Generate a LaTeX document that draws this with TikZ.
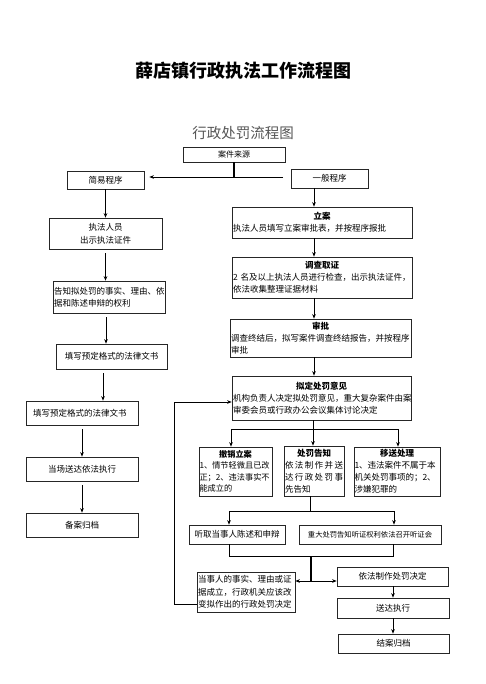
\documentclass[tikz,border=0pt]{standalone}
\usepackage{fontspec}
\setmainfont{Noto Sans CJK SC}
\usetikzlibrary{arrows.meta}
\definecolor{subgray}{RGB}{85,85,85}
\tikzset{
  box/.style={draw=black!85, line width=0.7pt, inner xsep=1pt, inner ysep=1pt,
    font=\fontsize{8.5}{12}\selectfont, align=center},
  tbox/.style={box, align=left},
  arr/.style={-{Stealth[length=4.5pt,width=3.6pt]}, line width=0.7pt},
  ln/.style={line width=0.7pt},
  thk/.style={line width=1.8pt},
}
\begin{document}
\begin{tikzpicture}[x=1pt,y=-1pt]
\useasboundingbox (0,0) rectangle (486,684);
% titles
\node[font=\fontsize{18}{20}\selectfont\bfseries] (title) at (243,71) {薛店镇行政执法工作流程图};
\node[font=\fontsize{14.5}{16}\selectfont, text=subgray] (sub) at (243,133) {行政处罚流程图};
% top
\node[box, minimum width=102pt, minimum height=15pt, font=\fontsize{8}{10}\selectfont] (src) at (234,154.5) {案件来源};
\node[box, minimum width=77pt, minimum height=18pt] (jy) at (105.5,180) {简易程序};
\node[box, minimum width=77pt, minimum height=19pt] (yb) at (329.5,178.5) {一般程序};
\coordinate (hs) at (283,177);
\draw[thk] (src.south) -- (src.south |- hs);
\draw[arr, shorten >=5pt] (hs) -- (hs -| jy.east);
% left column
\node[box, minimum width=113pt, minimum height=31pt, font=\fontsize{8.5}{13}\selectfont] (zf) at (105.5,233.5) {执法人员\\出示执法证件};
\node[tbox, minimum width=112pt, minimum height=32pt, text width=110pt] (gz) at (109,297) {告知拟处罚的事实、理由、依\\据和陈述申辩的权利};
\node[box, minimum width=111pt, minimum height=25pt] (tx1) at (111.5,356.5) {填写预定格式的法律文书};
\node[tbox, minimum width=112pt, minimum height=24pt, inner xsep=7pt, text width=98pt] (tx2) at (82,413) {填写预定格式的法律文书};
\node[box, minimum width=112pt, minimum height=24pt] (dc) at (82,469) {当场送达依法执行};
\node[box, minimum width=112pt, minimum height=24pt] (ba) at (82,525) {备案归档};
\coordinate (c1) at (106,0);
\coordinate (c2) at (103,0);
\draw[arr] (jy.south) -- (zf.north);
\draw[arr, shorten <=4pt] (zf.south) -- (zf.south |- gz.north);
\draw[arr, shorten <=4pt] (gz.south -| c1) -- (tx1.north -| c1);
\draw[arr, shorten <=4pt] (tx1.south -| c2) -- (tx2.north -| c2);
\draw[arr, shorten <=4pt] (tx2.south) -- (dc.north);
\draw[arr, shorten <=4pt] (dc.south) -- (ba.north);
% right column
\node[tbox, minimum width=180pt, minimum height=31pt, text width=178pt] (la) at (322,222.5)
  {{\centering\bfseries 立案\par}执法人员填写立案审批表，并按程序报批};
\node[tbox, minimum width=180pt, minimum height=41pt, text width=178pt] (dq) at (322,277.5)
  {{\centering\bfseries 调查取证\par}2 名及以上执法人员进行检查，出示执法证件，\\依法收集整理证据材料};
\node[tbox, minimum width=181pt, minimum height=38pt, text width=179pt] (sp) at (320.5,338)
  {{\centering\bfseries 审批\par}调查终结后，拟写案件调查终结报告，并按程序\\审批};
\node[tbox, minimum width=179pt, minimum height=44pt, text width=177pt] (nd) at (321.5,398)
  {{\centering\bfseries 拟定处罚意见\par}机构负责人决定拟处罚意见，重大复杂案件由案\\审委会员或行政办公会议集体讨论决定};
\coordinate (ax) at (314,0);
\draw[arr] (yb.south -| ax) -- (la.north -| ax);
\draw[arr] (la.south -| ax) -- (dq.north -| ax);
\draw[arr] (dq.south -| ax) -- (sp.north -| ax);
\draw[arr] (sp.south -| ax) -- (nd.north -| ax);
% three branches
\node[tbox, minimum width=73pt, minimum height=49pt, text width=72pt, inner xsep=0.5pt, font=\fontsize{8.2}{11.5}\selectfont] (cx) at (235.5,471.5)
  {{\centering\bfseries 撤销立案\par}1、情节轻微且已改\\正；2、违法事实不\\能成立的};
\node[tbox, minimum width=60pt, minimum height=50pt, text width=58pt] (cf) at (314,471)
  {{\centering\bfseries 处罚告知\par}\hbox to \linewidth{依\hfil 法\hfil 制\hfil 作\hfil 并\hfil 送}\hbox to \linewidth{达\hfil 行\hfil 政\hfil 处\hfil 罚\hfil 事}先告知};
\node[tbox, minimum width=86pt, minimum height=49pt, text width=85pt, inner xsep=0.5pt] (ys) at (397,471.5)
  {{\centering\bfseries 移送处理\par}1、违法案件不属于本\\机关处罚事项的；2、\\涉嫌犯罪的};
\coordinate (s1) at (231,429);
\coordinate (s2) at (313,429);
\coordinate (s3) at (398,429);
\draw[ln] (nd.south -| s2) -- (s2);
\draw[ln] (s1) -- (s3);
\draw[arr] (s1) -- (s1 |- cx.north);
\draw[arr] (s2) -- (s2 |- cf.north);
\draw[arr] (s3) -- (s3 |- ys.north);
% hearing
\node[box, minimum width=96pt, minimum height=19pt] (tq) at (237,534.5) {听取当事人陈述和申辩};
\node[box, minimum width=142pt, minimum height=19pt, font=\fontsize{7.3}{9}\selectfont] (zd) at (370,534.5) {重大处罚告知听证权利依法召开听证会};
\coordinate (h0) at (310,511);
\coordinate (h1) at (229,511);
\coordinate (h2) at (394,511);
\draw[ln] (cf.south -| h0) -- (h0);
\draw[ln] (h1) -- (h2);
\draw[arr] (h1) -- (h1 |- tq.north);
\draw[arr] (h2) -- (h2 |- zd.north);
% decision
\node[tbox, minimum width=98pt, minimum height=40pt, text width=96pt, font=\fontsize{8.5}{12.5}\selectfont] (dsr) at (246,592)
  {当事人的事实、理由或证\\据成立，行政机关应该改\\变拟作出的行政处罚决定};
\node[box, minimum width=111pt, minimum height=19pt] (yf) at (392.5,576.5) {依法制作处罚决定};
\node[box, minimum width=112pt, minimum height=20pt] (sd) at (393,608) {送达执行};
\node[box, minimum width=111pt, minimum height=19pt] (ja) at (393.5,643.5) {结案归档};
\coordinate (j1) at (229,556);
\coordinate (j2) at (393,556);
\coordinate (j0) at (311,556);
\coordinate (m) at (311,581);
\draw[ln] (tq.south -| j1) -- (j1) -- (j2) -- (zd.south -| j2);
\draw[thk] (j0) -- (m);
\draw[arr] (m) -- (m -| dsr.east);
\draw[arr] (m) -- (m -| yf.west);
\coordinate (bx) at (393,0);
\draw[arr] (yf.south -| bx) -- (sd.north -| bx);
\draw[arr] (sd.south -| bx) -- (ja.north -| bx);
% feedback loop
\coordinate (f1) at (174,604);
\coordinate (f2) at (174,402);
\draw[arr] (f1 -| dsr.west) -- (f1) -- (f2) -- (f2 -| nd.west);
\end{tikzpicture}
\end{document}
